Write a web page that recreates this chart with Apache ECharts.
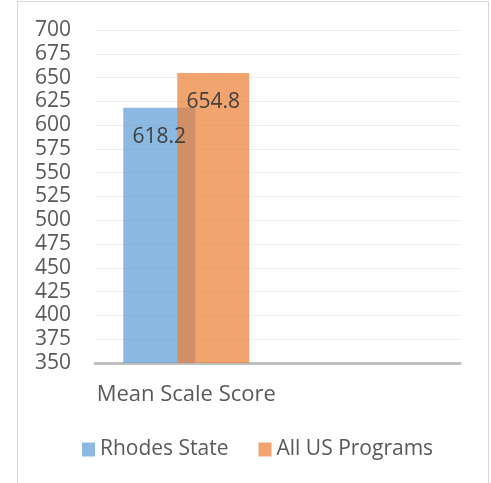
<!DOCTYPE html>
<html>
<head>
<meta charset="utf-8">
<script src="https://cdn.jsdelivr.net/npm/echarts@6/dist/echarts.min.js"></script>
<style>
  html, body { margin: 0; padding: 0; background: #fff; }
  #chart { width: 491px; height: 483px; }
</style>
</head>
<body>
<div id="chart"></div>
<script>
// categories (second slot is empty in the original)
const categories = ["Mean Scale Score", ""];
const rhodesState = [618.2, null];
const allUsPrograms = [654.8, null];

const chart = echarts.init(document.getElementById("chart"));

const textFont = { fontFamily: "Open Sans", fontSize: 21 };

chart.setOption({
    animation: false,
    graphic: [
        {
            type: "rect",
            shape: { x: 17.5, y: 1.5, width: 471, height: 500 },
            style: { fill: "none", stroke: "#d9d9d9", lineWidth: 1 },
            silent: true,
        },
    ],
    grid: { left: 95, right: 31, top: 30, bottom: 120 },
    legend: {
        bottom: 18,
        left: 77,
        itemWidth: 13,
        itemHeight: 14,
        itemGap: 30,
        icon: "rect",
        textStyle: { ...textFont, color: "#595959" },
        data: ["Rhodes State", "All US Programs"],
    },
    xAxis: {
        type: "category",
        data: categories,
        axisTick: { show: false },
        axisLine: { lineStyle: { color: "#bfbfbf", width: 3 } },
        axisLabel: { ...textFont, fontSize: 22, color: "#595959", margin: 21 },
    },
    yAxis: {
        type: "value",
        min: 350,
        max: 700,
        interval: 25,
        axisLine: { show: false },
        axisTick: { show: false },
        axisLabel: { ...textFont, color: "#595959", margin: 24 },
        splitLine: { lineStyle: { color: "#ececec", width: 1 } },
    },
    series: [
        {
            name: "Rhodes State",
            type: "bar",
            data: rhodesState,
            barWidth: 72,
            barGap: "-25%",
            itemStyle: { color: "rgba(91,155,213,0.7)" },
            label: {
                show: true,
                position: "insideTop",
                distance: 19,
                ...textFont,
                color: "#404040",
            },
        },
        {
            name: "All US Programs",
            type: "bar",
            data: allUsPrograms,
            barWidth: 72,
            barGap: "-25%",
            itemStyle: { color: "rgba(237,125,49,0.7)" },
            label: {
                show: true,
                position: "insideTop",
                distance: 19,
                ...textFont,
                color: "#404040",
            },
        },
    ],
});
</script>
</body>
</html>
